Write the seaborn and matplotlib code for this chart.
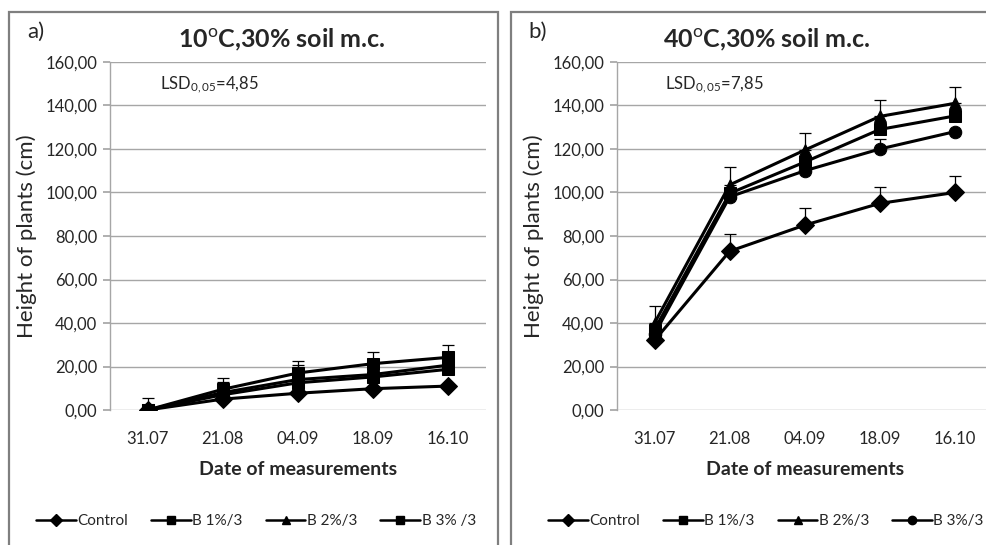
import matplotlib
matplotlib.use("Agg")
import matplotlib.pyplot as plt
import seaborn as sns
import pandas as pd
import numpy as np
from matplotlib.lines import Line2D
from matplotlib.patches import Rectangle
from matplotlib.ticker import FuncFormatter

dates = ["31.07", "21.08", "04.09", "18.09", "16.10"]

# Panel a) 10 C
a_control = [0.0, 5.0, 7.7, 9.8, 11.0]
a_b1 = [0.0, 7.0, 12.5, 15.2, 18.7]
a_b2 = [0.0, 8.0, 14.0, 16.3, 20.6]
a_b3 = [0.0, 9.5, 17.0, 21.3, 24.2]
a_b2_err = [0.0, 5.0, 6.7, 0.0, 0.0]
a_b3_err = [5.7, 5.0, 5.5, 5.5, 5.7]

# Panel b) 40 C
b_control = [32.0, 73.0, 85.0, 95.0, 100.0]
b_b1 = [37.0, 99.6, 114.0, 129.0, 135.2]
b_b2 = [40.0, 103.5, 119.5, 135.0, 141.0]
b_b3 = [35.0, 98.0, 110.0, 120.0, 128.0]
b_control_err = [0.0, 8.0, 8.0, 7.7, 7.6]
b_b2_err = [8.0, 8.0, 8.0, 7.6, 7.6]
b_b3_err = [0.0, 0.0, 0.0, 4.8, 0.0]

a_labels = ["Control", "B 1%/3", "B 2%/3", "B 3% /3"]
b_labels = ["Control", "B 1%/3", "B 2%/3", "B 3%/3"]
a_markers = ["D", "s", "^", "s"]
b_markers = ["D", "s", "^", "o"]
marker_sizes = {"D": 6, "s": 6, "^": 6, "o": 6}

sns.set_theme(style="white")
FONT = ["Lato", "DejaVu Sans"]
plt.rcParams["font.family"] = FONT
plt.rcParams["mathtext.fontset"] = "custom"
plt.rcParams["mathtext.rm"] = "Lato"
plt.rcParams["mathtext.it"] = "Lato"
plt.rcParams["mathtext.bf"] = "Lato:bold"

fig = plt.figure(figsize=(9.87, 5.45), dpi=100)
W, H = 987, 545


def ax_rect(x0, y0, x1, y1):
    return [x0 / W, 1 - y1 / H, (x1 - x0) / W, (y1 - y0) / H]


ax_a = fig.add_axes(ax_rect(110, 62, 485.5, 410))
ax_b = fig.add_axes(ax_rect(617, 62, 992.5, 410))

# panel borders
for (x0, x1) in [(9, 498), (511, 1000)]:
    fig.add_artist(Rectangle((x0 / W, -0.05), (x1 - x0) / W, 1 - 12 / H + 0.05,
                             transform=fig.transFigure, fill=False,
                             edgecolor="#7f7f7f", linewidth=1.6, zorder=0))


def draw_panel(ax, series, labels, markers, errs, title, lsd, letter, title_x, letter_x, lsd_x, legend_cx):
    rows = []
    for vals, lab in zip(series, labels):
        for i, v in enumerate(vals):
            rows.append({"pos": i, "height": v, "series": lab})
    df = pd.DataFrame(rows)
    mk = {lab: m for lab, m in zip(labels, markers)}
    sns.lineplot(data=df, x="pos", y="height", hue="series", style="series",
                 palette={lab: "black" for lab in labels}, markers=mk, dashes=False,
                 linewidth=2.2, markersize=9, markeredgecolor="black", legend=False,
                 ax=ax, zorder=3)
    for idx, e in errs.items():
        yv = series[idx]
        ax.errorbar(range(len(dates)), yv, yerr=[np.zeros(len(e)), e], fmt="none",
                    ecolor="black", elinewidth=0.9, capsize=4, capthick=0.9, zorder=2)
    ax.set_xlim(-0.5, len(dates) - 0.5)
    ax.set_ylim(0, 160)
    ax.set_yticks(np.arange(0, 161, 20))
    ax.yaxis.set_major_formatter(FuncFormatter(lambda v, p: f"{v:.2f}".replace(".", ",")))
    ax.set_xticks(range(len(dates)))
    ax.set_xticklabels(dates)
    ax.grid(axis="y", color="#a6a6a6", linewidth=1)
    ax.set_axisbelow(True)
    for s in ["top", "right", "bottom"]:
        ax.spines[s].set_visible(False)
    ax.spines["left"].set_color("#a6a6a6")
    ax.spines["left"].set_linewidth(1)
    ax.tick_params(axis="y", which="major", left=True, length=5, color="#a6a6a6",
                   labelsize=12, labelcolor="#262626", pad=4)
    ax.tick_params(axis="x", bottom=False, labelsize=12, labelcolor="#262626", pad=9)
    ax.set_xlabel("Date of measurements", fontsize=14, fontweight="bold", labelpad=10)
    ax.set_ylabel("Height of plants (cm)", fontsize=16, labelpad=6)
    ax.set_facecolor("none")

    fig.text(title_x / W, 1 - 40 / H, title, fontsize=18, fontweight="bold",
             ha="center", va="center")
    fig.text(letter_x / W, 1 - 32 / H, letter, fontsize=16, ha="left", va="center")
    fig.text(lsd_x / W, 1 - 85 / H, lsd, fontsize=12, ha="left", va="center")

    handles = [Line2D([0], [0], color="black", linewidth=1.8, marker=m,
                      markersize=marker_sizes[m], markerfacecolor="black",
                      markeredgecolor="black") for m in markers]
    fig.legend(handles, labels, loc="center", bbox_to_anchor=(legend_cx / W, 1 - 521 / H),
               ncol=4, frameon=False, fontsize=11, handlelength=2.6,
               handletextpad=0.1, columnspacing=1.5)


draw_panel(ax_a, [a_control, a_b1, a_b2, a_b3], a_labels, a_markers,
           {2: a_b2_err, 3: a_b3_err},
           r"10$^{\mathrm{o}}$C,30% soil m.c.", r"LSD$_{0,05}$=4,85", "a)",
           282, 27, 160, 256)
draw_panel(ax_b, [b_control, b_b1, b_b2, b_b3], b_labels, b_markers,
           {0: b_control_err, 2: b_b2_err, 3: b_b3_err},
           r"40$^{\mathrm{o}}$C,30% soil m.c.", r"LSD$_{0,05}$=7,85", "b)",
           767, 528, 665, 766)

fig.savefig("out.png", dpi=100)
